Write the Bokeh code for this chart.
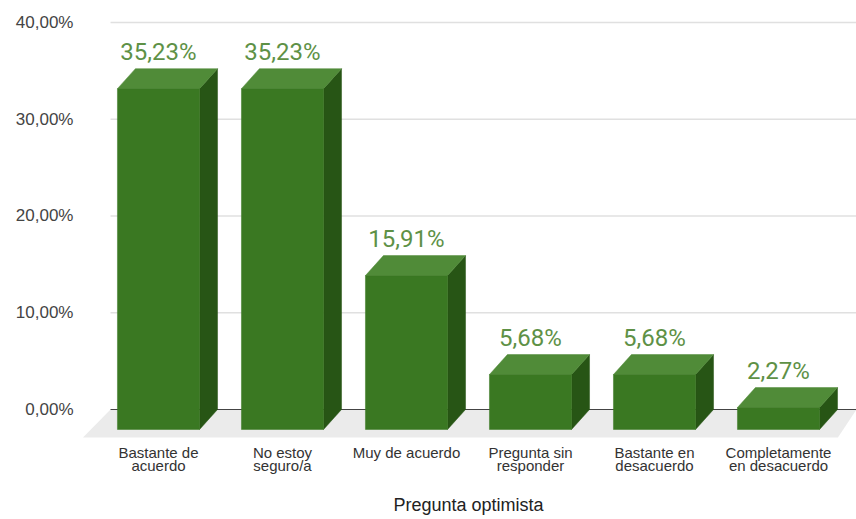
from bokeh.plotting import figure
from bokeh.models import FixedTicker, Range1d
from bokeh.embed import file_html
from bokeh.resources import INLINE
from bokeh.core.properties import value

# ---------------- data ----------------
categories = ["Bastante de acuerdo", "No estoy seguro/a", "Muy de acuerdo",
              "Pregunta sin responder", "Bastante en desacuerdo",
              "Completamente en desacuerdo"]
tick_labels = ["Bastante de\nacuerdo", "No estoy\nseguro/a", "Muy de acuerdo",
               "Pregunta sin\nresponder", "Bastante en\ndesacuerdo",
               "Completamente\nen desacuerdo"]
values = [35.23, 35.23, 15.91, 5.68, 5.68, 2.27]
value_labels = ["35,23%", "35,23%", "15,91%", "5,68%", "5,68%", "2,27%"]
y_ticks = [0, 10, 20, 30, 40]
y_tick_labels = ["0,00%", "10,00%", "20,00%", "30,00%", "40,00%"]
x_title = "Pregunta optimista"

# ---------------- geometry / style ----------------
W, H = 856, 519
BAR_HALF = 0.331      # half width of the front face (category units)
DX = 0.145            # 3D depth, horizontal (category units)
DY = 2.067            # 3D depth, vertical (value units)
FLOOR_DY = 2.894
X0 = -0.387           # left end of back plane
X_MIN, X_MAX = -0.629, 5.629
Y_MIN, Y_MAX = -3.204, 41.24

FRONT = "#3a7822"
TOP = "#508b38"
SIDE = "#275515"
LABEL_GREEN = "#5e9146"

p = figure(width=W, height=H, x_range=Range1d(X_MIN, X_MAX),
           y_range=Range1d(Y_MIN, Y_MAX), output_backend="svg",
           toolbar_location=None, min_border_left=80, min_border_right=0,
           min_border_top=10, min_border_bottom=79)
p.outline_line_color = None
p.grid.visible = False
p.background_fill_color = "white"
p.border_fill_color = "white"

# y axis
p.yaxis.ticker = FixedTicker(ticks=y_ticks)
p.yaxis.major_label_overrides = dict(zip(y_ticks, y_tick_labels))
p.yaxis.axis_line_color = None
p.yaxis.major_tick_line_color = None
p.yaxis.minor_tick_line_color = None
p.yaxis.major_tick_out = 0
p.yaxis.major_tick_in = 0
p.yaxis.major_label_standoff = 7
p.yaxis.major_label_text_font = "Liberation Sans"
p.yaxis.major_label_text_font_size = "17px"
p.yaxis.major_label_text_color = "#444444"

# x axis
xs = list(range(len(categories)))
p.xaxis.ticker = FixedTicker(ticks=xs)
p.xaxis.major_label_overrides = dict(zip(xs, tick_labels))
p.xaxis.axis_line_color = None
p.xaxis.major_tick_line_color = None
p.xaxis.minor_tick_line_color = None
p.xaxis.major_tick_out = 0
p.xaxis.major_tick_in = 0
p.xaxis.major_label_standoff = 3
p.xaxis.major_label_text_font = "Liberation Sans"
p.xaxis.major_label_text_font_size = "15px"
p.xaxis.major_label_text_line_height = 0.82
p.xaxis.major_label_text_color = "#333333"
p.xaxis.axis_label = x_title
p.xaxis.axis_label_text_font = "Liberation Sans"
p.xaxis.axis_label_text_font_style = "normal"
p.xaxis.axis_label_text_font_size = "18px"
p.xaxis.axis_label_text_color = "#222222"
p.xaxis.axis_label_standoff = 18

# floor
p.patch(x=[X0, X_MAX, X_MAX - 0.15, X_MIN + 0.02],
        y=[0, 0, -FLOOR_DY, -FLOOR_DY], fill_color="#ebebeb", line_color=None)

# gridlines
gy = [t for t in y_ticks if t != 0]
p.segment(x0=[X0] * len(gy), y0=gy, x1=[X_MAX] * len(gy), y1=gy,
          line_color="#e0e0e0", line_width=1.5)
# zero line
p.segment(x0=[X0], y0=[0], x1=[X_MAX], y1=[0], line_color="#444444", line_width=1)

# bars
side_xs, side_ys, top_xs, top_ys = [], [], [], []
for i, v in zip(xs, values):
    l, r = i - BAR_HALF, i + BAR_HALF
    side_xs.append([r, r, r + DX, r + DX])
    side_ys.append([-DY, v - DY, v, 0])
    top_xs.append([l, r, r + DX, l + DX])
    top_ys.append([v - DY, v - DY, v, v])
p.patches(xs=side_xs, ys=side_ys, fill_color=SIDE, line_color=SIDE, line_width=0.5)
p.patches(xs=top_xs, ys=top_ys, fill_color=TOP, line_color=TOP, line_width=0.5)
p.quad(left=[i - BAR_HALF for i in xs], right=[i + BAR_HALF for i in xs],
       bottom=[-DY] * len(xs), top=[v - DY for v in values],
       fill_color=FRONT, line_color=FRONT, line_width=0.5)

# value labels
p.text(x=xs, y=[v + 0.25 for v in values], text=value_labels,
       text_align="center", text_baseline="bottom",
       text_font=value("Roboto"), text_font_size="24px", text_color=LABEL_GREEN)

open("out.html", "w").write(file_html(p, INLINE))
